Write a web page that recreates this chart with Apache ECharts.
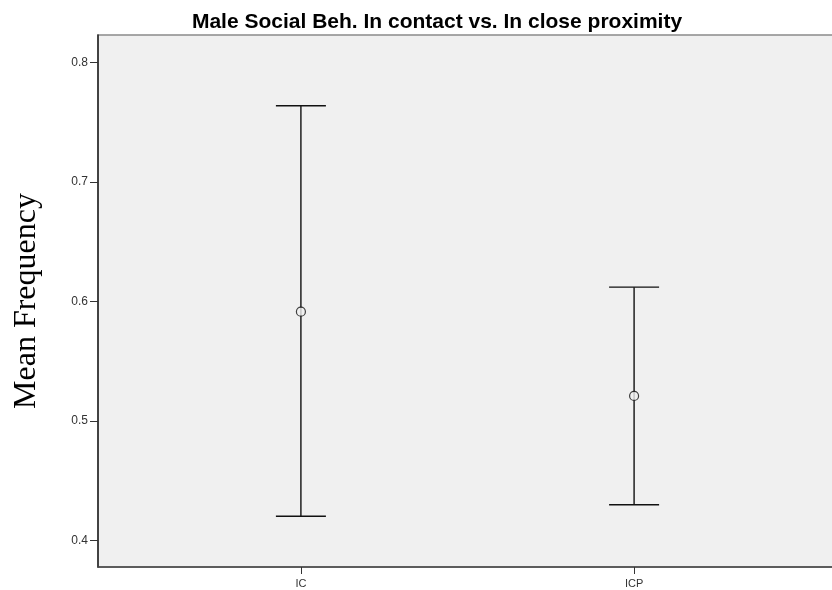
<!DOCTYPE html>
<html>
<head>
<meta charset="utf-8">
<script src="https://cdn.jsdelivr.net/npm/echarts@6/dist/echarts.min.js"></script>
<style>
html,body{margin:0;padding:0;background:#fff;}
#chart{width:832px;height:590px;}
</style>
</head>
<body>
<div id="chart"></div>
<script>
const categories = ['IC', 'ICP'];
const means = [0.5915, 0.521];
const lowers = [0.4204, 0.430];
const uppers = [0.7637, 0.612];
const yTicks = [0.4, 0.5, 0.6, 0.7, 0.8];
const titleText = 'Male Social Beh. In contact vs. In close proximity';
const yName = 'Mean Frequency';

const chart = echarts.init(document.getElementById('chart'));
const barData = categories.map((c, i) => [i, lowers[i], uppers[i]]);
const meanData = categories.map((c, i) => [i, means[i]]);

chart.setOption({
  animation: false,
  backgroundColor: '#ffffff',
  title: {
    text: titleText,
    left: 432, top: 7, textAlign: 'center',
    textStyle: { fontFamily: 'Liberation Sans, Arial', fontWeight: 'bold', fontSize: 21, color: '#000' }
  },
  grid: {
    left: 98, top: 35, right: -5, bottom: 23,
    outerBoundsMode: 'none', containLabel: false,
    show: true, backgroundColor: '#f0f0f0', borderColor: '#8a8a8a', borderWidth: 1.5
  },
  xAxis: {
    type: 'value', min: -0.609, max: 1.609,
    axisLine: { show: true, onZero: false, lineStyle: { color: '#444', width: 1.5 } },
    axisTick: { show: true, customValues: [0, 1], length: 7, lineStyle: { color: '#333' } },
    axisLabel: {
      customValues: [0, 1], formatter: v => categories[Math.round(v)] || '',
      fontFamily: 'Liberation Sans, Arial', fontSize: 11, color: '#333', margin: 11
    },
    splitLine: { show: false }
  },
  yAxis: {
    type: 'value', min: 0.378, max: 0.8228,
    name: yName, nameLocation: 'middle', nameRotate: 90, nameGap: 55,
    nameTextStyle: { fontFamily: 'Liberation Serif, Times New Roman', fontSize: 32, color: '#000' },
    axisLine: { show: true, onZero: false, lineStyle: { color: '#222', width: 1.5 } },
    axisTick: { show: true, customValues: yTicks, length: 8, lineStyle: { color: '#333' } },
    axisLabel: {
      customValues: yTicks, formatter: v => v.toFixed(1),
      fontFamily: 'Liberation Sans, Arial', fontSize: 12, color: '#333', margin: 10
    },
    splitLine: { show: false }
  },
  series: [
    {
      type: 'custom',
      data: barData,
      silent: true,
      z: 2,
      renderItem: function (params, api) {
        const x = api.value(0);
        const pLo = api.coord([x, api.value(1)]);
        const pHi = api.coord([x, api.value(2)]);
        const hw = 25;
        const st = { stroke: '#111', lineWidth: 1.4 };
        return {
          type: 'group',
          children: [
            { type: 'line', shape: { x1: pHi[0], y1: pHi[1], x2: pLo[0], y2: pLo[1] }, style: st },
            { type: 'line', shape: { x1: pHi[0] - hw, y1: pHi[1], x2: pHi[0] + hw, y2: pHi[1] }, style: st },
            { type: 'line', shape: { x1: pLo[0] - hw, y1: pLo[1], x2: pLo[0] + hw, y2: pLo[1] }, style: st }
          ]
        };
      }
    },
    {
      type: 'scatter',
      data: meanData,
      symbol: 'circle',
      symbolSize: 9,
      z: 3,
      silent: true,
      itemStyle: { color: '#f0f0f0', borderColor: '#111', borderWidth: 1.2 }
    }
  ]
});
</script>
</body>
</html>
